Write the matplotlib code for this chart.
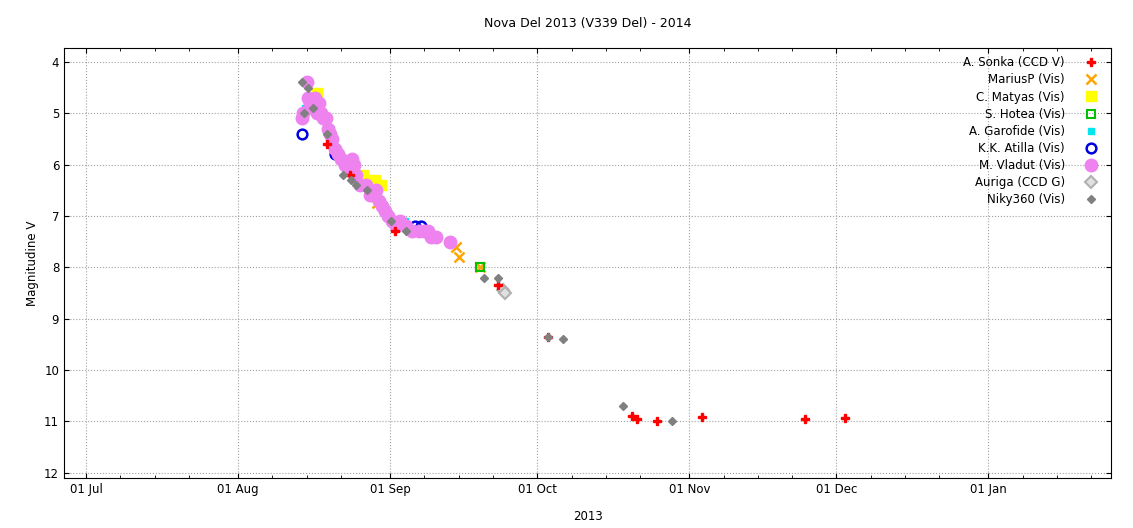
import matplotlib
matplotlib.use("Agg")
import matplotlib.pyplot as plt
import matplotlib.dates as mdates
import numpy as np
import datetime as dt

# days since 2013-07-01, visual magnitude
start = dt.datetime(2013, 7, 1)

sonka_d = [49.2, 53.9, 63.0, 84.0, 94.2, 111.4, 112.4, 116.5, 125.5, 146.7, 154.8]
sonka_m = [5.6, 6.2, 7.3, 8.35, 9.35, 10.9, 10.95, 11.0, 10.92, 10.95, 10.93]

marius_d = [58.3, 59.3, 75.5, 76.1, 80.4]
marius_m = [6.5, 6.75, 7.6, 7.8, 8.0]

matyas_d = [45.9, 47.1, 56.5, 57.7, 59.0, 60.2]
matyas_m = [4.8, 4.6, 6.2, 6.3, 6.3, 6.4]

hotea_d = [80.4]
hotea_m = [8.0]

garofide_d = [44.7, 50.0, 63.7, 65.1]
garofide_m = [4.9, 5.3, 7.2, 7.1]

atilla_d = [44.1, 50.8, 67.1, 68.3]
atilla_m = [5.4, 5.8, 7.2, 7.2]

vladut_d = [44.1, 44.3, 45.1, 45.3, 45.7, 46.3, 46.7, 47.1, 47.6, 48.0, 48.4, 49.0,
            49.4, 49.8, 50.2, 50.8, 51.4, 52.0, 52.7, 53.3, 53.7, 54.3, 54.7, 55.1,
            55.9, 57.1, 58.0, 58.6, 59.2, 59.8, 60.4, 61.0, 61.6, 62.4, 63.3, 64.1,
            65.3, 66.5, 67.8, 69.0, 69.8, 70.4, 71.4, 74.3]
vladut_m = [5.1, 5.0, 4.4, 4.7, 4.8, 4.9, 4.7, 5.0, 4.8, 5.0, 5.1, 5.1,
            5.3, 5.4, 5.5, 5.7, 5.8, 5.9, 6.0, 6.0, 6.1, 5.9, 6.0, 6.2,
            6.4, 6.4, 6.6, 6.6, 6.5, 6.7, 6.8, 6.9, 7.0, 7.1, 7.2, 7.1,
            7.2, 7.3, 7.3, 7.3, 7.3, 7.4, 7.4, 7.5]

auriga_d = [85.0, 85.4]
auriga_m = [8.45, 8.5]

niky_d = [44.1, 44.5, 45.3, 46.3, 49.2, 52.4, 54.1, 55.1, 57.3, 62.2, 65.3,
          81.2, 84.1, 94.1, 97.3, 109.4, 119.4]
niky_m = [4.4, 5.0, 4.5, 4.9, 5.4, 6.2, 6.3, 6.4, 6.5, 7.1, 7.3,
          8.2, 8.2, 9.35, 9.4, 10.7, 11.0]

def to_dates(days):
    return [start + dt.timedelta(days=d) for d in days]

plt.rcParams['font.size'] = 8.5
fig = plt.figure(figsize=(11.33, 5.28), dpi=100)
ax = fig.add_axes([64/1133, 50/528, 1047/1133, 430/528])

ax.plot(to_dates(sonka_d), sonka_m, 'P', color='#ff0000', ms=6, ls='none', label='A. Sonka (CCD V)', zorder=5)
ax.plot(to_dates(marius_d), marius_m, 'x', color='#ffa500', ms=7, mew=1.8, ls='none', label='MariusP (Vis)', zorder=4)
ax.plot(to_dates(matyas_d), matyas_m, 's', color='#ffff00', ms=7, ls='none', label='C. Matyas (Vis)', zorder=3)
ax.plot(to_dates(hotea_d), hotea_m, 's', mfc='none', mec='#00c000', mew=1.5, ms=6, ls='none', label='S. Hotea (Vis)', zorder=4)
ax.plot(to_dates(garofide_d), garofide_m, 's', color='#00e5ee', ms=5, ls='none', label='A. Garofide (Vis)', zorder=3)
ax.plot(to_dates(atilla_d), atilla_m, 'o', mfc='none', mec='#0000e0', mew=1.8, ms=7, ls='none', label='K.K. Atilla (Vis)', zorder=3)
ax.plot(to_dates(vladut_d), vladut_m, 'o', color='#ee82ee', ms=9, ls='none', label='M. Vladut (Vis)', zorder=4)
ax.plot(to_dates(auriga_d), auriga_m, 'D', mfc='#e0e0e0', mec='#b0b0b0', mew=1.5, ms=6, ls='none', label='Auriga (CCD G)', zorder=3)
ax.plot(to_dates(niky_d), niky_m, 'D', color='#808080', ms=4, ls='none', label='Niky360 (Vis)', zorder=6)

ax.set_xlim(start - dt.timedelta(days=4.5), start + dt.timedelta(days=209))
ax.set_ylim(12.1, 3.73)
ax.set_yticks(range(4, 13))
ax.xaxis.set_major_locator(mdates.MonthLocator())
ax.xaxis.set_major_formatter(mdates.DateFormatter('%d %b'))
ax.xaxis.set_minor_locator(mdates.DayLocator(bymonthday=[8, 15, 22]))
ax.tick_params(which='both', direction='in', top=True, right=True)
ax.grid(True, which='major', color='#a0a0a0', ls=':', lw=0.8)

ax.set_title('Nova Del 2013 (V339 Del) - 2014', fontsize=9, pad=15)
ax.set_xlabel('2013', labelpad=10)
ax.set_ylabel('Magnitudine V')

ax.legend(loc='upper right', frameon=False, markerfirst=False, handletextpad=1.2,
          labelspacing=0.35, borderaxespad=0.3, fontsize=8.5)

plt.savefig('out.png', dpi=100)
